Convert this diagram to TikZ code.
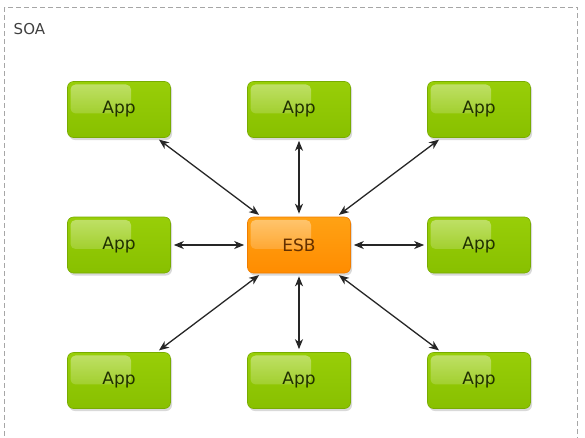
\documentclass[tikz,border=0pt]{standalone}
\usepackage{fontspec}
\setmainfont{DejaVu Sans}
\usetikzlibrary{shadows,fadings,arrows.meta}
\definecolor{apptop}{RGB}{152,206,8}
\definecolor{appbot}{RGB}{136,192,0}
\definecolor{appline}{RGB}{120,172,0}
\definecolor{apptext}{RGB}{32,48,0}
\definecolor{esbtop}{RGB}{255,162,20}
\definecolor{esbbot}{RGB}{255,140,0}
\definecolor{esbline}{RGB}{240,125,0}
\definecolor{esbtext}{RGB}{100,48,0}
\def\cx{299}
\def\cy{245}
\def\dx{180}
\def\dy{135.5}

\begin{document}
\begin{tikzpicture}[x=1pt,y=-1pt,>={Stealth[length=10pt,width=8pt,inset=3pt]},thick,
  box/.style={rounded corners=6pt,minimum width=103pt,minimum height=56pt,inner sep=0pt,
    font=\fontsize{17}{20}\selectfont,line width=0.6pt,
    drop shadow={shadow xshift=1.5pt,shadow yshift=-2.5pt,opacity=0.3},
    path picture={\fill[white,opacity=0.4,path fading=south,rounded corners=5pt]
      ([shift={(3pt,-3pt)}]path picture bounding box.north west)
      rectangle ([shift={(12pt,-4pt)}]path picture bounding box.center);}},
  app/.style={box,top color=apptop,bottom color=appbot,draw=appline,text=apptext},
  esb/.style={box,top color=esbtop,bottom color=esbbot,draw=esbline,text=esbtext},
  link/.style={<->,shorten >=3pt,shorten <=3pt,color=black!85,line width=1.3pt}]
\useasboundingbox (0,0) rectangle (585,437);
\draw[gray!70,line width=0.8pt,dash pattern=on 5pt off 3pt] (4.5,7) rectangle (577.5,450);
\node[anchor=base west,text=black!75,font=\fontsize{15}{18}\selectfont] (soa) at (10,34) {SOA};
\node[esb] (esb) at (\cx,\cy) {ESB};
% apps round the bus
\foreach \i/\j [count=\k] in {-1/-1,0/-1,1/-1,-1/0,1/0,-1/1,0/1,1/1} {
  \node[app] (app\k) at ({\cx+\i*\dx},{\cy+\j*\dy}) {App};
  \draw[link] (app\k) -- (esb);
}
\end{tikzpicture}
\end{document}
